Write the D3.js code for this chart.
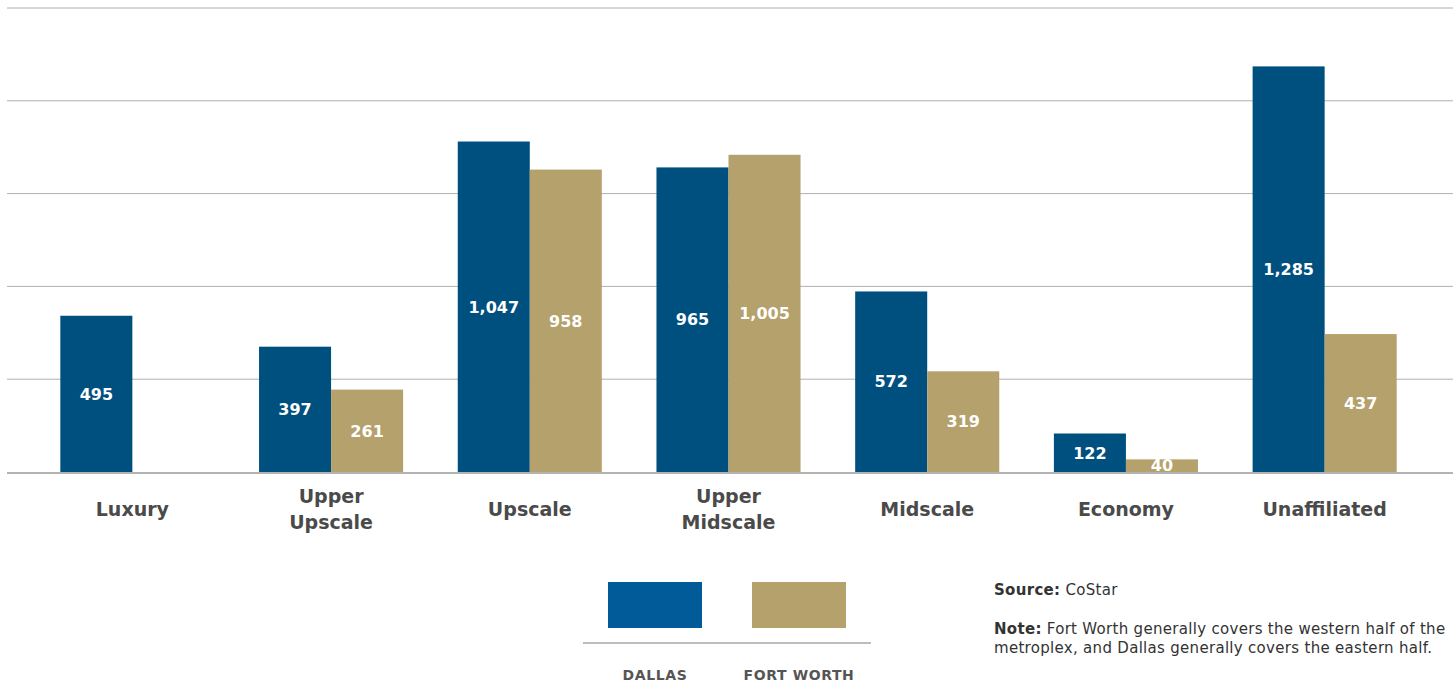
<!DOCTYPE html>
<html><head><meta charset="utf-8">
<script src="https://cdn.jsdelivr.net/npm/d3@7"></script>
<style>
body{margin:0;background:#fff;}
svg{display:block;font-family:"DejaVu Sans","Noto Sans",sans-serif;}
</style></head>
<body>
<svg id="chart" width="1453" height="683"></svg>
<script>
const categories = [["Luxury"],["Upper","Upscale"],["Upscale"],["Upper","Midscale"],["Midscale"],["Economy"],["Unaffiliated"]];
const seriesNames = ["DALLAS","FORT WORTH"];
const dallas = [495, 397, 1047, 965, 572, 122, 1285];
const fortWorth = [null, 261, 958, 1005, 319, 40, 437];
const gridValues = [0, 294, 588, 882, 1176, 1470];
const barColors = ["#00507f", "#b5a16b"];
const legendColors = ["#005b98", "#b5a16b"];

const svg = d3.select("#chart");
const W = 1453;
const catKeys = categories.map(c => c.join(" "));
const x0 = d3.scaleBand().domain(catKeys).range([33, 1424]).padding(0);
const bw = x0.bandwidth();
const x1 = d3.scaleBand().domain(seriesNames).range([bw*0.1375, bw*0.8625]).padding(0);
const y = d3.scaleLinear().domain([0, 1470]).range([472, 8]);

// gridlines
svg.append("g").selectAll("line").data(gridValues.slice(1)).join("line")
  .attr("x1", 7).attr("x2", W).attr("y1", d => y(d)).attr("y2", d => y(d))
  .attr("stroke", "#b0b0b0").attr("stroke-width", 1);

const data = catKeys.map((k,i) => ({key:k, vals:[dallas[i], fortWorth[i]]}));
const groups = svg.append("g").selectAll("g").data(data).join("g")
  .attr("transform", d => `translate(${x0(d.key)},0)`);
const bars = groups.selectAll("g.bar").data(d => d.vals.map((v,j)=>({v, s:seriesNames[j], j})).filter(e => e.v != null))
  .join("g").attr("class","bar");
bars.append("rect")
  .attr("x", d => x1(d.s)).attr("width", x1.bandwidth())
  .attr("y", d => y(d.v)).attr("height", d => y(0) - y(d.v))
  .attr("fill", d => barColors[d.j]);
bars.append("text")
  .attr("x", d => x1(d.s) + x1.bandwidth()/2)
  .attr("y", d => (y(d.v) + y(0))/2)
  .attr("dy", "0.36em")
  .attr("text-anchor", "middle")
  .attr("fill", "#fff").attr("font-weight", 700).attr("font-size", 16)
  .text(d => d3.format(",")(d.v));

// baseline
svg.append("line").attr("x1", 7).attr("x2", W).attr("y1", y(0)+1).attr("y2", y(0)+1)
  .attr("stroke", "#b3b3b3").attr("stroke-width", 2);

// category labels
const catLabels = svg.append("g").selectAll("text").data(categories).join("text")
  .attr("x", (d,i) => x0(catKeys[i]) + bw/2)
  .attr("text-anchor", "middle")
  .attr("fill", "#4a4a4a").attr("font-weight", 700).attr("font-size", 19);
catLabels.each(function(d){
  const t = d3.select(this);
  const startY = d.length === 1 ? 516 : 503;
  d.forEach((line, k) => {
    t.append("tspan").attr("x", t.attr("x")).attr("y", startY + k*26).text(line);
  });
});

// legend
const legendCenters = [655, 799];
const lg = svg.append("g");
lg.selectAll("rect").data(seriesNames).join("rect")
  .attr("x", (d,i) => legendCenters[i] - 47).attr("y", 582)
  .attr("width", 94).attr("height", 46)
  .attr("fill", (d,i) => legendColors[i]);
lg.append("line").attr("x1", 583).attr("x2", 871).attr("y1", 643).attr("y2", 643)
  .attr("stroke", "#bdbdbd").attr("stroke-width", 2);
lg.selectAll("text").data(seriesNames).join("text")
  .attr("x", (d,i) => legendCenters[i]).attr("y", 680)
  .attr("text-anchor", "middle").attr("fill", "#555").attr("font-weight", 700)
  .attr("font-size", 14).attr("letter-spacing", 0.6)
  .text(d => d);

// notes
const notes = svg.append("g").attr("fill", "#333").attr("font-size", 15).attr("letter-spacing", 0.3);
const s = notes.append("text").attr("x", 994).attr("y", 595);
s.append("tspan").attr("font-weight", 700).text("Source:");
s.append("tspan").text(" CoStar");
const n1 = notes.append("text").attr("x", 994).attr("y", 634);
n1.append("tspan").attr("font-weight", 700).text("Note:");
n1.append("tspan").text(" Fort Worth generally covers the western half of the");
notes.append("text").attr("x", 994).attr("y", 653).text("metroplex, and Dallas generally covers the eastern half.");
</script>
</body></html>
